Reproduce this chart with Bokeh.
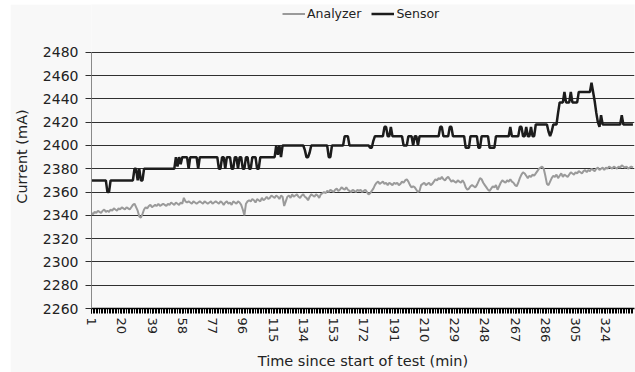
from bokeh.plotting import figure
from bokeh.models import Range1d, FixedTicker, Legend, LegendItem
from bokeh.embed import file_html
from bokeh.resources import INLINE

# ---- data ----
analyzer = [
    2342, 2341, 2343, 2342, 2344, 2343, 2342, 2344, 2345, 2343, 2344, 2343, 2345, 2344, 2346, 2345, 2344, 2346, 2345, 2347,
    2346, 2345, 2347, 2346, 2345, 2347, 2349, 2350, 2347, 2344, 2339, 2338, 2341, 2345, 2347, 2346, 2348, 2349, 2347, 2348,
    2349, 2348, 2350, 2348, 2349, 2350, 2349, 2348, 2350, 2349, 2351, 2350, 2349, 2351, 2350, 2349, 2351, 2350, 2355, 2352,
    2351, 2352, 2351, 2350, 2352, 2351, 2350, 2351, 2352, 2351, 2350, 2352, 2351, 2350, 2351, 2352, 2350, 2351, 2352, 2351,
    2350, 2352, 2351, 2349, 2351, 2352, 2350, 2351, 2349, 2352, 2351, 2350, 2352, 2351, 2349, 2345, 2340, 2350, 2352, 2353,
    2352, 2354, 2353, 2351, 2354, 2353, 2352, 2355, 2353, 2354, 2356, 2354, 2355, 2357, 2356, 2355, 2357, 2356, 2354, 2357,
    2356, 2348, 2352, 2356, 2357, 2355, 2358, 2356, 2357, 2358, 2356, 2355, 2357, 2358, 2356, 2355, 2353, 2356, 2358, 2357,
    2356, 2358, 2357, 2355, 2358, 2359, 2360, 2359, 2361, 2360, 2362, 2361, 2360, 2362, 2363, 2361, 2362, 2364, 2363, 2362,
    2364, 2362, 2361, 2360, 2362, 2361, 2360, 2362, 2361, 2362, 2360, 2361, 2362, 2360, 2358, 2359, 2361, 2363, 2366, 2368,
    2369, 2367, 2368, 2369, 2367, 2368, 2366, 2368, 2367, 2366, 2368, 2367, 2368, 2366, 2367, 2369, 2368, 2370, 2371, 2369,
    2366, 2364, 2365, 2364, 2362, 2360, 2361, 2366, 2367, 2368, 2366, 2367, 2368, 2366, 2367, 2369, 2371, 2370, 2372, 2371,
    2373, 2371, 2370, 2372, 2373, 2371, 2369, 2370, 2369, 2368, 2370, 2369, 2368, 2370, 2368, 2364, 2362, 2363, 2365, 2366,
    2365, 2364, 2366, 2369, 2372, 2371, 2368, 2366, 2364, 2362, 2361, 2363, 2365, 2364, 2366, 2362, 2365, 2368, 2370, 2369,
    2368, 2370, 2369, 2371, 2369, 2368, 2366, 2365, 2368, 2372, 2375, 2377, 2376, 2374, 2372, 2374, 2373, 2375, 2374, 2376,
    2378, 2380, 2381, 2382, 2380, 2374, 2367, 2366, 2369, 2372, 2374, 2373, 2375, 2372, 2374, 2376, 2373, 2375, 2374, 2373,
    2375, 2377, 2376, 2375, 2377, 2376, 2378, 2377, 2376, 2378, 2379, 2377, 2379, 2378, 2380, 2379, 2378, 2380, 2381, 2379,
    2380, 2381, 2379, 2381, 2380, 2382, 2381, 2380, 2382, 2381, 2380, 2382, 2381, 2383, 2382, 2381, 2382, 2380, 2381, 2382, 2381,
]

# Sensor reading: minute at which the reading changes, and the new reading
sensor_change_minute = [
    1, 11, 13, 28, 30, 31, 32, 34, 54, 55, 56, 57, 58, 62, 63, 68, 69, 81, 83, 85,
    86, 89, 91, 93, 94, 96, 98, 100, 102, 105, 107, 117, 118, 119, 120, 121, 135, 136, 138, 139,
    150, 152, 160, 163, 176, 178, 179, 185, 187, 189, 190, 197, 200, 203, 204, 206, 207, 220, 222, 226,
    228, 236, 239, 244, 246, 251, 255, 264, 265, 270, 272, 274, 275, 277, 278, 280, 288, 289, 290, 291,
    294, 295, 298, 299, 302, 303, 307, 315, 316, 317, 318, 319, 320, 321, 322, 334, 335,
]
sensor_change_value = [
    2370, 2360, 2370, 2380, 2370, 2380, 2370, 2380, 2390, 2382, 2390, 2384, 2390, 2380, 2390, 2380, 2390, 2380, 2390, 2380,
    2390, 2380, 2390, 2380, 2390, 2380, 2390, 2380, 2390, 2380, 2390, 2400, 2392, 2400, 2390, 2400, 2396, 2390, 2394, 2400,
    2390, 2400, 2408, 2400, 2398, 2404, 2408, 2416, 2408, 2416, 2408, 2400, 2408, 2400, 2408, 2400, 2408, 2416, 2408, 2416,
    2408, 2398, 2408, 2398, 2408, 2398, 2408, 2416, 2408, 2416, 2408, 2416, 2408, 2416, 2408, 2418, 2412, 2408, 2412, 2418,
    2428, 2437, 2446, 2437, 2446, 2437, 2446, 2454, 2446, 2438, 2428, 2420, 2416, 2426, 2418, 2426, 2418,
]

x_tick_labels = [1, 20, 39, 58, 77, 96, 115, 134, 153, 172, 191, 210, 229, 248, 267, 286, 305, 324]
y_ticks = [2260, 2280, 2300, 2320, 2340, 2360, 2380, 2400, 2420, 2440, 2460, 2480]

n = len(analyzer)
minutes = list(range(1, n + 1))

# expand the sensor change list into one reading per minute
sensor = []
for i, start in enumerate(sensor_change_minute):
    end = sensor_change_minute[i + 1] if i + 1 < len(sensor_change_minute) else n + 1
    sensor += [sensor_change_value[i]] * (end - start)
sensor = sensor[:n]

FONT = "DejaVu Sans"
BG = "#f8f8f8"

# The frame reaches the top edge so the legend (inside the frame) is not clipped;
# the value axis itself is bounded to 2260..2480.
Y0, Y1 = y_ticks[0], y_ticks[-1]
PLOT_H = 257          # pixels between 2260 and 2480
TOP_PAD = 48          # pixels above 2480 used by the legend
y_end = Y1 + TOP_PAD * (Y1 - Y0) / PLOT_H

p = figure(width=625, height=368, margin=(4, 0, 0, 10),
           output_backend="svg", toolbar_location=None,
           x_range=Range1d(1, 342), y_range=Range1d(Y0, y_end),
           min_border_left=76, min_border_right=1, min_border_top=0, min_border_bottom=63,
           background_fill_color=BG, border_fill_color=BG, outline_line_color=None)

# grid
p.xgrid.grid_line_color = None
p.ygrid.ticker = FixedTicker(ticks=y_ticks)
p.ygrid.grid_line_color = "#303030"
p.ygrid.grid_line_width = 1.2

# x axis
p.xaxis.ticker = FixedTicker(ticks=x_tick_labels, minor_ticks=minutes)
p.xaxis.axis_line_color = "#000000"
p.xaxis.axis_line_width = 1.5
p.xaxis.major_tick_line_color = "#000000"
p.xaxis.minor_tick_line_color = "#000000"
p.xaxis.major_tick_in = 0
p.xaxis.minor_tick_in = 0
p.xaxis.major_tick_out = 5
p.xaxis.minor_tick_out = 5
p.xaxis.major_label_orientation = "vertical"
p.xaxis.major_label_standoff = 4
p.xaxis.major_label_text_font = FONT
p.xaxis.major_label_text_font_size = "13px"
p.xaxis.major_label_text_color = "#222222"
p.xaxis.axis_label = "Time since start of test (min)"
p.xaxis.axis_label_text_font = FONT
p.xaxis.axis_label_text_font_size = "14.5px"
p.xaxis.axis_label_text_font_style = "normal"
p.xaxis.axis_label_text_color = "#222222"
p.xaxis.axis_label_standoff = 8

# y axis
p.yaxis.ticker = FixedTicker(ticks=y_ticks)
p.yaxis.bounds = (Y0, Y1)
p.yaxis.axis_line_color = "#8a8a8a"
p.yaxis.major_tick_line_color = "#303030"
p.yaxis.major_tick_in = 0
p.yaxis.major_tick_out = 6
p.yaxis.minor_tick_line_color = None
p.yaxis.major_label_standoff = 7
p.yaxis.major_label_text_font = FONT
p.yaxis.major_label_text_font_size = "14px"
p.yaxis.major_label_text_color = "#222222"
p.yaxis.axis_label = "Current (mA)"
p.yaxis.axis_label_text_font = FONT
p.yaxis.axis_label_text_font_size = "14.5px"
p.yaxis.axis_label_text_font_style = "normal"
p.yaxis.axis_label_text_color = "#222222"
p.yaxis.axis_label_standoff = 10

r_an = p.line(minutes, analyzer, line_color="#9a9a9a", line_width=2)
r_se = p.line(minutes, sensor, line_color="#1c1c1c", line_width=2.5)

legend = Legend(items=[LegendItem(label="Analyzer", renderers=[r_an]),
                       LegendItem(label="Sensor", renderers=[r_se])],
                orientation="horizontal", location=(191, 287),
                background_fill_alpha=0, border_line_color=None,
                padding=0, margin=0, spacing=10,
                glyph_width=23, glyph_height=13, label_height=13, label_standoff=2,
                label_text_font=FONT, label_text_font_size="12.5px", label_text_color="#222222")
p.add_layout(legend, "center")

open("out.html", "w").write(file_html(p, INLINE))
